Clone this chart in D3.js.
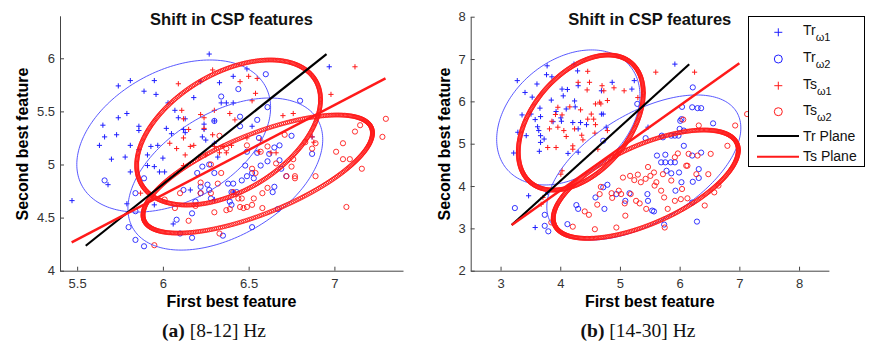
<!DOCTYPE html>
<html>
<head>
<meta charset="utf-8">
<script src="https://cdn.jsdelivr.net/npm/d3@7/dist/d3.min.js"></script>
<style>
  body { margin: 0; background: #fff; }
  svg { display: block; }
  .tick text { font-family: "Liberation Sans", Arial, sans-serif; font-size: 13px; fill: #333; }
</style>
</head>
<body>
<svg id="chart" width="875" height="346"></svg>
<script>
// ---- panel (a) [8-12] Hz ----
const aTr1 = [[6.27,6.04],[5.81,5.79],[5.74,5.74],[5.95,5.79],[5.89,5.69],[5.96,5.66],[5.65,5.37],[5.74,5.44],
  [5.79,5.48],[5.66,5.26],[5.63,5.18],[5.73,5.28],[5.86,5.36],[5.86,5.32],[5.81,5.18],[5.78,5.07],[5.70,5.05],
  [5.81,4.93],[5.91,5.09],[5.93,5.17],[5.97,5.18],[5.86,5.14],[5.91,4.99],[5.98,4.93],[6.01,4.93],[5.95,4.98],
  [6.00,5.06],[5.68,4.81],[5.79,4.63],[5.47,4.66],[6.03,5.58],[6.07,5.51],[6.09,5.44],[6.02,5.34],[6.05,5.29],
  [6.12,5.33],[6.13,5.43],[6.18,5.63],[6.22,5.78],[6.33,5.77],[6.41,5.83],[6.49,5.90],[6.34,5.58],[6.37,5.58],
  [6.41,5.58],[6.30,5.41],[6.24,5.38],[6.23,5.26],[6.25,5.23],[6.30,5.20],[6.32,5.07],[6.24,5.33],[6.16,4.76],
  [5.95,4.62],[6.06,4.44],[6.30,4.67],[6.41,4.74],[6.52,5.36],[6.97,5.92],[6.87,5.26],[6.13,5.30]];
const aTr2 = [[6.60,5.85],[6.34,5.64],[6.44,5.71],[6.80,5.60],[6.61,5.54],[6.45,5.45],[6.55,5.42],[6.45,5.36],
  [6.56,5.25],[6.30,5.41],[6.75,5.27],[6.87,5.10],[6.68,5.18],[6.62,5.10],[6.49,5.12],[6.55,5.11],[6.48,4.99],
  [6.65,5.16],[6.68,5.04],[6.61,5.03],[6.57,4.99],[6.69,4.96],[6.52,4.92],[6.49,4.89],[6.53,4.87],[6.46,4.85],
  [6.41,4.82],[6.38,4.82],[6.43,4.74],[6.40,4.74],[6.65,4.79],[6.64,4.74],[6.72,4.89],[6.23,4.98],[6.27,5.00],
  [6.30,4.92],[6.20,4.92],[6.26,4.81],[6.22,4.79],[6.12,4.76],[6.27,4.76],[6.22,4.73],[6.28,4.68],[6.19,4.65],
  [6.17,4.54],[6.08,4.48],[6.10,4.35],[6.17,4.31],[6.35,4.33],[6.39,4.65],[6.40,4.62],[6.52,4.41],[6.67,4.58],
  [5.89,4.87],[5.66,4.85],[5.84,4.73],[5.84,4.56],[5.80,4.41],[5.84,4.29],[5.89,4.23]];
const aTs1 = [[6.29,5.89],[6.09,5.76],[6.50,5.83],[6.55,5.81],[6.45,5.78],[6.54,5.67],[6.52,5.60],[6.22,5.47],
  [6.24,5.44],[6.30,5.51],[6.11,5.51],[6.12,5.43],[6.15,5.33],[6.24,5.34],[6.29,5.28],[6.12,5.25],[6.16,5.17],
  [6.18,5.18],[6.13,5.09],[6.21,5.07],[6.25,5.09],[6.33,5.11],[6.35,5.17],[6.40,5.18],[6.37,5.11],[6.49,5.25],
  [6.57,5.23],[6.56,5.12],[6.63,5.11],[6.66,5.11],[6.70,5.46],[6.76,5.48],[6.98,5.66],[7.12,5.92],[6.87,5.26],
  [6.88,5.21],[5.87,4.73],[6.12,4.99],[6.04,5.20],[6.08,5.15],[6.39,5.48],[6.42,5.42],[6.30,5.17]];
const aTs2 = [[7.30,5.43],[7.28,5.26],[7.15,5.37],[7.12,5.31],[7.05,5.20],[7.01,5.12],[7.05,5.05],[7.09,5.05],
  [7.16,4.96],[6.89,4.89],[7.07,4.60],[6.83,5.21],[6.87,5.15],[6.89,5.20],[6.71,5.28],[6.76,5.05],[6.75,4.98],
  [6.72,4.89],[6.77,4.89],[6.77,4.87],[6.61,5.17],[6.66,5.01],[6.57,5.12],[6.52,4.96],[6.54,4.92],[6.49,5.18],
  [6.37,5.15],[6.33,5.27],[6.28,5.00],[6.32,4.82],[6.34,4.92],[6.22,4.73],[6.28,4.73],[6.41,4.74],[6.44,4.68],
  [6.46,4.68],[6.53,4.68],[6.49,4.60],[6.45,4.60],[6.47,4.59],[6.52,4.62],[6.58,4.59],[6.58,4.73],[6.61,4.78],
  [6.39,4.58],[6.37,4.57],[6.30,4.55],[6.15,4.47],[6.19,4.61],[6.33,4.35],[5.95,4.24],[6.01,4.67],[6.07,4.59],
  [6.10,4.73],[6.22,4.83]];
const aTrPlane = [[5.55,4.235],[6.954,6.04]];
const aTsPlane = [[5.468,4.267],[7.298,5.81]];
// ellipses: [cx, cy, rx, ry, phase in degrees]
const aTrEllipses = [[6.063,5.268,0.565,0.716,68],[6.364,4.91,0.568,0.716,63]];
const aTsEllipses = [[6.383,5.301,0.536,0.683,63],[6.553,4.91,0.669,0.556,46]];
const aXTicks = [5.5, 6, 6.5, 7];
const aYTicks = [4, 4.5, 5, 5.5, 6];

// ---- panel (b) [14-30] Hz ----
const bTr1 = [[3.28,6.49],[3.41,6.21],[3.53,6.10],[3.61,6.41],[3.77,6.63],[3.86,6.58],[3.78,6.84],[4.23,6.88],
  [4.29,6.72],[4.03,6.29],[4.12,6.28],[4.30,6.37],[4.87,6.45],[4.69,6.25],[3.36,5.68],[3.51,5.70],[3.58,5.57],
  [3.66,5.84],[3.67,5.64],[3.62,5.40],[3.64,5.31],[3.29,5.27],[3.43,5.19],[3.67,5.19],[3.67,5.03],[3.73,5.11],
  [3.65,4.82],[3.22,4.78],[3.85,6.03],[3.93,5.76],[4.01,5.61],[4.02,5.53],[3.88,5.52],[4.10,5.82],[4.21,5.50],
  [4.24,6.01],[4.25,5.87],[4.30,5.35],[4.34,5.50],[4.44,5.45],[4.69,5.70],[4.72,5.70],[4.77,5.39],[5.24,6.49],
  [5.20,6.29],[5.92,6.88],[5.47,5.39],[4.13,4.77],[3.47,3.77],[3.58,3.02],[3.79,3.85],[4.30,4.80],[4.05,6.13]];
const bTr2 = [[3.24,3.48],[3.74,3.32],[3.74,3.06],[3.80,2.93],[4.12,3.10],[4.27,3.55],[4.30,3.46],[4.72,5.07],
  [4.72,3.97],[4.79,4.03],[4.59,3.73],[4.74,3.46],[4.94,3.81],[5.16,3.83],[5.09,3.65],[5.46,3.81],[5.47,3.65],
  [5.54,3.42],[5.57,3.40],[5.29,5.94],[5.43,5.13],[5.62,4.72],[5.69,4.56],[5.70,5.19],[5.72,5.15],[5.86,5.19],
  [5.92,5.19],[5.98,5.19],[5.76,4.74],[5.76,4.56],[5.85,4.56],[5.92,4.56],[5.86,4.30],[5.99,4.32],[5.78,4.36],
  [6.01,5.54],[6.03,5.58],[6.00,5.35],[6.07,5.31],[6.07,4.95],[6.21,5.86],[6.30,5.84],[6.36,5.84],[6.22,6.33],
  [6.21,4.72],[6.32,4.19],[6.32,4.40],[6.36,4.79],[6.56,5.48],[6.03,4.09],[5.93,3.89],[6.22,4.10],[6.21,3.61],
  [6.29,3.16],[5.74,3.09],[6.04,5.87]];
const bTs1 = [[4.46,6.71],[4.30,6.45],[4.49,6.45],[4.45,6.27],[4.70,6.37],[4.73,6.25],[4.90,6.32],[5.07,6.25],
  [5.60,6.69],[6.25,6.69],[5.30,6.09],[3.96,5.86],[3.92,5.69],[4.03,5.68],[4.16,5.87],[3.96,5.39],[3.86,5.53],
  [3.82,5.35],[4.06,5.31],[4.10,5.17],[4.24,5.35],[4.36,5.20],[4.56,5.58],[4.59,5.45],[4.46,5.58],[4.68,5.94],
  [4.59,5.94],[4.52,5.70],[4.34,5.80],[4.21,4.95],[4.21,4.87],[4.38,5.09],[3.79,4.91],[3.93,4.91],[4.63,4.87],
  [4.58,5.25],[4.79,5.31],[4.03,4.36],[4.01,4.28],[3.71,3.73],[3.68,3.57],[4.66,5.98],[4.79,6.02]];
const bTs2 = [[3.85,3.14],[4.21,3.04],[4.58,2.98],[4.94,3.02],[5.09,3.30],[4.48,3.32],[4.41,3.40],[4.62,3.56],
  [4.66,3.81],[4.68,3.98],[4.86,3.83],[4.87,3.72],[4.98,3.89],[5.02,3.81],[5.05,4.20],[5.17,4.24],[5.24,4.14],
  [5.30,4.27],[5.18,3.81],[5.08,3.59],[5.27,3.65],[5.33,3.59],[5.44,3.46],[5.43,4.17],[5.51,4.24],[5.57,4.32],
  [5.58,4.01],[5.61,4.09],[5.69,3.89],[5.72,4.28],[5.74,3.73],[5.80,3.46],[5.75,3.02],[5.86,4.13],[5.92,4.68],
  [6.02,3.69],[6.04,3.93],[6.11,4.48],[6.13,4.48],[6.15,4.76],[6.30,4.72],[6.32,5.43],[6.28,4.28],[6.52,4.76],
  [6.48,4.28],[6.42,3.54],[6.58,3.85],[6.65,4.01],[6.80,4.95],[6.93,5.43],[7.13,5.70],[6.13,3.71],[5.92,3.65],
  [5.97,4.77],[6.06,5.57],[5.35,4.09],[5.47,4.45]];
const bTrPlane = [[3.187,3.08],[6.16,6.876]];
const bTsPlane = [[3.187,3.08],[7.0,6.9]];
const bTrEllipses = [[4.135,5.62,1.2,1.595,71],[5.40,4.438,1.625,1.713,57]];
const bTsEllipses = [[4.344,5.50,1.047,1.595,64],[5.433,4.043,1.55,1.28,51]];
const bXTicks = [3, 4, 5, 6, 7, 8];
const bYTicks = [2, 3, 4, 5, 6, 7, 8];

const legendItems = [
  {type: "plus", color: "#1f1fff", main: "Tr", sub: "\u03c91"},
  {type: "circle", color: "#1f1fff", main: "Tr", sub: "\u03c92"},
  {type: "plus", color: "#ff1a1a", main: "Ts", sub: "\u03c91"},
  {type: "circle", color: "#ff1a1a", main: "Ts", sub: "\u03c92"},
  {type: "line", color: "#000", main: "Tr Plane"},
  {type: "line", color: "#ff1a1a", main: "Ts Plane"}
];

const BLUE = "#1f1fff", RED = "#ff1a1a";
const svg = d3.select("#chart");
const sans = "'Liberation Sans', Arial, Helvetica, sans-serif";

function ellipsePoints(e, n) {
  const [cx, cy, rx, ry, ph] = e;
  const p = ph * Math.PI / 180;
  return d3.range(n + 1).map(i => {
    const t = 2 * Math.PI * i / n;
    return [cx + rx * Math.cos(t), cy + ry * Math.cos(t - p)];
  });
}

function drawPanel(cfg) {
  const x = d3.scaleLinear().domain(cfg.xDomain).range(cfg.xRange);
  const y = d3.scaleLinear().domain(cfg.yDomain).range(cfg.yRange);
  const g = svg.append("g");

  // axes (ticks inward, like matlab)
  g.append("g").attr("transform", `translate(0,${cfg.yRange[0]})`)
    .call(d3.axisBottom(x).tickValues(cfg.xTicks).tickFormat(d3.format("~g"))
      .tickSizeInner(-4).tickSizeOuter(0).tickPadding(8));
  g.append("g").attr("transform", `translate(${cfg.xRange[0]},0)`)
    .call(d3.axisLeft(y).tickValues(cfg.yTicks).tickFormat(d3.format("~g"))
      .tickSizeInner(-4).tickSizeOuter(0).tickPadding(5));
  g.selectAll(".domain, .tick line").attr("stroke", "#444");

  const plus = (sel, pts, color) => {
    sel.selectAll(null).data(pts).enter().append("path")
      .attr("d", d => `M${x(d[0]) - 2.6},${y(d[1])}h5.2M${x(d[0])},${y(d[1]) - 2.6}v5.2`)
      .attr("stroke", color).attr("stroke-width", 1).attr("fill", "none");
  };
  const circ = (sel, pts, color) => {
    sel.selectAll(null).data(pts).enter().append("circle")
      .attr("cx", d => x(d[0])).attr("cy", d => y(d[1])).attr("r", 2.6)
      .attr("stroke", color).attr("stroke-width", 0.9).attr("fill", "none");
  };

  const pg = g.append("g");
  plus(pg, cfg.tr1, BLUE);
  circ(pg, cfg.tr2, BLUE);
  plus(pg, cfg.ts1, RED);
  circ(pg, cfg.ts2, RED);

  const line = d3.line().x(d => x(d[0])).y(d => y(d[1]));
  cfg.trEll.forEach(e => {
    g.append("path").attr("d", line(ellipsePoints(e, 200)))
      .attr("fill", "none").attr("stroke", "#4646ff").attr("stroke-width", 0.9);
  });
  cfg.tsEll.forEach(e => {
    g.append("g").selectAll("circle").data(ellipsePoints(e, 360)).enter().append("circle")
      .attr("cx", d => x(d[0])).attr("cy", d => y(d[1])).attr("r", 2)
      .attr("fill", "none").attr("stroke", RED).attr("stroke-width", 0.9);
  });

  g.append("path").attr("d", line(cfg.trPlane)).attr("stroke", "#000").attr("stroke-width", 2.2).attr("fill", "none");
  g.append("path").attr("d", line(cfg.tsPlane)).attr("stroke", RED).attr("stroke-width", 2.5).attr("fill", "none");

  const cx = (cfg.xRange[0] + cfg.xRange[1]) / 2;
  g.append("text").attr("x", cx).attr("y", 25).attr("text-anchor", "middle")
    .attr("font-family", sans).attr("font-weight", "bold").attr("font-size", 16.5).attr("fill", "#111")
    .text("Shift in CSP features");
  g.append("text").attr("x", cx).attr("y", 307).attr("text-anchor", "middle")
    .attr("font-family", sans).attr("font-weight", "bold").attr("font-size", 16).attr("fill", "#000")
    .text("First best feature");
  g.append("text").attr("transform", `translate(${cfg.yLabelX},144) rotate(-90)`).attr("text-anchor", "middle")
    .attr("font-family", sans).attr("font-weight", "bold").attr("font-size", 16).attr("fill", "#000")
    .text("Second best feature");

  const cap = g.append("text").attr("x", cfg.capX).attr("y", 337).attr("text-anchor", "middle")
    .attr("font-family", "'Liberation Serif', 'Times New Roman', serif").attr("font-size", 19.5).attr("fill", "#111");
  cap.append("tspan").attr("font-weight", "bold").text(cfg.capTag);
  cap.append("tspan").text(" " + cfg.capText);
  return g;
}

drawPanel({
  xDomain: [5.4, 7.4], xRange: [60, 403], yDomain: [4, 6.4], yRange: [270.7, 15.8],
  xTicks: aXTicks, yTicks: aYTicks, tr1: aTr1, tr2: aTr2, ts1: aTs1, ts2: aTs2,
  trEll: aTrEllipses, tsEll: aTsEllipses, trPlane: aTrPlane, tsPlane: aTsPlane,
  yLabelX: 28, capX: 214, capTag: "(a)", capText: "[8-12] Hz"
});
drawPanel({
  xDomain: [2.5, 8.5], xRange: [470.7, 828.9], yDomain: [2, 8], yRange: [270.7, 16.7],
  xTicks: bXTicks, yTicks: bYTicks, tr1: bTr1, tr2: bTr2, ts1: bTs1, ts2: bTs2,
  trEll: bTrEllipses, tsEll: bTsEllipses, trPlane: bTrPlane, tsPlane: bTsPlane,
  yLabelX: 450, capX: 638, capTag: "(b)", capText: "[14-30] Hz"
});

// legend
const lg = svg.append("g");
lg.append("rect").attr("x", 748.5).attr("y", 16.5).attr("width", 116).attr("height", 150)
  .attr("fill", "#fff").attr("stroke", "#000").attr("stroke-width", 1);
const rowY = [32.3, 59, 85.7, 111.7, 136, 156.7];
legendItems.forEach((it, i) => {
  const yy = rowY[i], mx = 778.3;
  if (it.type === "plus") {
    lg.append("path").attr("d", `M${mx - 4},${yy}h8M${mx},${yy - 4}v8`).attr("stroke", it.color).attr("stroke-width", 1);
  } else if (it.type === "circle") {
    lg.append("circle").attr("cx", mx).attr("cy", yy).attr("r", 4).attr("fill", "none").attr("stroke", it.color).attr("stroke-width", 1);
  } else {
    lg.append("line").attr("x1", 757).attr("x2", 799).attr("y1", yy).attr("y2", yy).attr("stroke", it.color).attr("stroke-width", 2);
  }
  const t = lg.append("text").attr("x", 803).attr("y", it.sub ? yy + 3 : yy + 4.5)
    .attr("font-family", sans).attr("font-size", 14).attr("fill", "#111");
  t.append("tspan").text(it.main);
  if (it.sub) t.append("tspan").attr("dy", 6).attr("font-size", 11).text(it.sub);
});
</script>
</body>
</html>
